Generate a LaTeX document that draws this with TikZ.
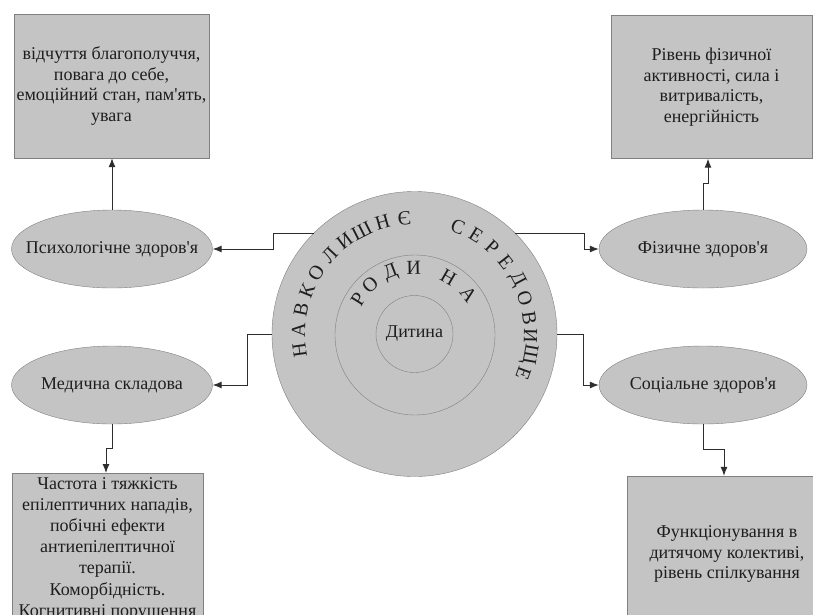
\documentclass[tikz,border=0pt]{standalone}
\usepackage{fontspec}
\setmainfont{Liberation Serif}[Ligatures=TeXOff]
\usetikzlibrary{arrows.meta,shapes.geometric}
\definecolor{shapefill}{RGB}{196,196,196}
\definecolor{shapeline}{RGB}{128,128,128}
\definecolor{linkline}{RGB}{45,45,45}
\definecolor{textcol}{RGB}{30,30,30}

\begin{document}
\begin{tikzpicture}[x=1pt,y=-1pt,
  textbox/.style={draw=shapeline,fill=shapefill,text=textcol,align=center,
    font=\fontsize{18}{20.5}\selectfont,inner sep=2pt},
  oval/.style={ellipse,draw=shapeline,fill=shapefill,minimum height=78,inner sep=0pt},
  ovaltext/.style={text=textcol,font=\fontsize{18}{20.5}\selectfont,inner sep=0pt},
  ring/.style={circle,draw=shapeline,fill=shapefill,inner sep=0pt},
  letter/.style={text=textcol,font=\fontsize{20}{20}\selectfont,inner sep=0pt},
  link/.style={draw=linkline,line width=1pt,-{Latex[length=9pt,width=7pt]}}]
\clip (0,0) rectangle (813,614);
% draw top boxes
\node[textbox,minimum width=195,minimum height=144] (psychbox) at (111.5,86)
  {відчуття благополуччя,\\ повага до себе,\\ емоційний стан, пам'ять,\\ увага};
\node[textbox,minimum width=201,minimum height=143] (physbox) at (711.5,87)
  {Рівень фізичної\\ активності, сила і\\ витривалість,\\ енергійність};
% draw ovals
\node[oval,minimum width=201,label={[ovaltext]center:Психологічне здоров'я}] (psych) at (112,249) {};
\node[oval,minimum width=208,label={[ovaltext]center:Фізичне здоров'я}] (phys) at (703,249) {};
\node[oval,minimum width=201,label={[ovaltext]center:Медична складова}] (med) at (112,385) {};
\node[oval,minimum width=208,label={[ovaltext]center:Соціальне здоров'я}] (soc) at (703,385) {};
% draw bottom boxes
\node[textbox,anchor=north,minimum width=191,font=\fontsize{18}{21.2}\selectfont,inner ysep=4pt] (medbox) at (107.5,473)
  {Частота і тяжкість\\ епілептичних нападів,\\ побічні ефекти\\ антиепілептичної\\ терапії.\\ Коморбідність.\\ Когнитивні порушення};
\node[textbox,minimum width=200,minimum height=156] (socbox) at (727,554)
  {Функціонування в\\ дитячому колективі,\\ рівень спілкування};
% draw circles
\node[ring,minimum size=285] (big) at (414.5,334) {};
\node[ring,minimum size=160] (family) at (415,335) {};
\node[ring,minimum size=77,text=textcol,font=\fontsize{18}{20.5}\selectfont] (child) at (414.5,334) {Дитина};
% draw letters on circles
\foreach \l/\a [count=\i] in {Н/188,А/178,В/168,К/158,О/148,Л/137,И/127,Ш/117,Н/106,Є/95,
    С/68,Е/58,Р/48,Е/38,Д/28,О/18,В/8,И/-1,Щ/-10,Е/-20}
  \path (big.center) ++({116*cos(\a)},{-116*sin(\a)}) node[letter,rotate=\a-90] (out\i) {\l};
\foreach \l/\a [count=\i] in {Р/148,О/132,Д/111,И/91,Н/60,А/37}
  \path (family.center) ++({67*cos(\a)},{-67*sin(\a)}) node[letter,rotate=\a-90] (fam\i) {\l};
% draw connectors
\coordinate (pj) at (273,249);
\coordinate (fj) at (584,249);
\coordinate (mj) at (247,385);
\coordinate (sj) at (583,385);
\draw[link] (big.135) -| (pj) -- (psych);
\draw[link] (big.45) -| (fj) -- (phys);
\draw[link] (big.west) -| (mj) -- (med);
\draw[link] (big.east) -| (sj) -- (soc);
\coordinate (fk) at (708,183);
\coordinate (mk) at (106,448);
\coordinate (sk) at (724,449);
\draw[link] (psych.north) -- (psych.north |- psychbox.south);
\draw[link] (phys.north) |- (fk) -- (fk |- physbox.south);
\draw[link] (med.south) |- (mk) -- (mk |- medbox.north);
\draw[link] (soc.south) |- (sk) -- (sk |- socbox.north);
\end{tikzpicture}
\end{document}
